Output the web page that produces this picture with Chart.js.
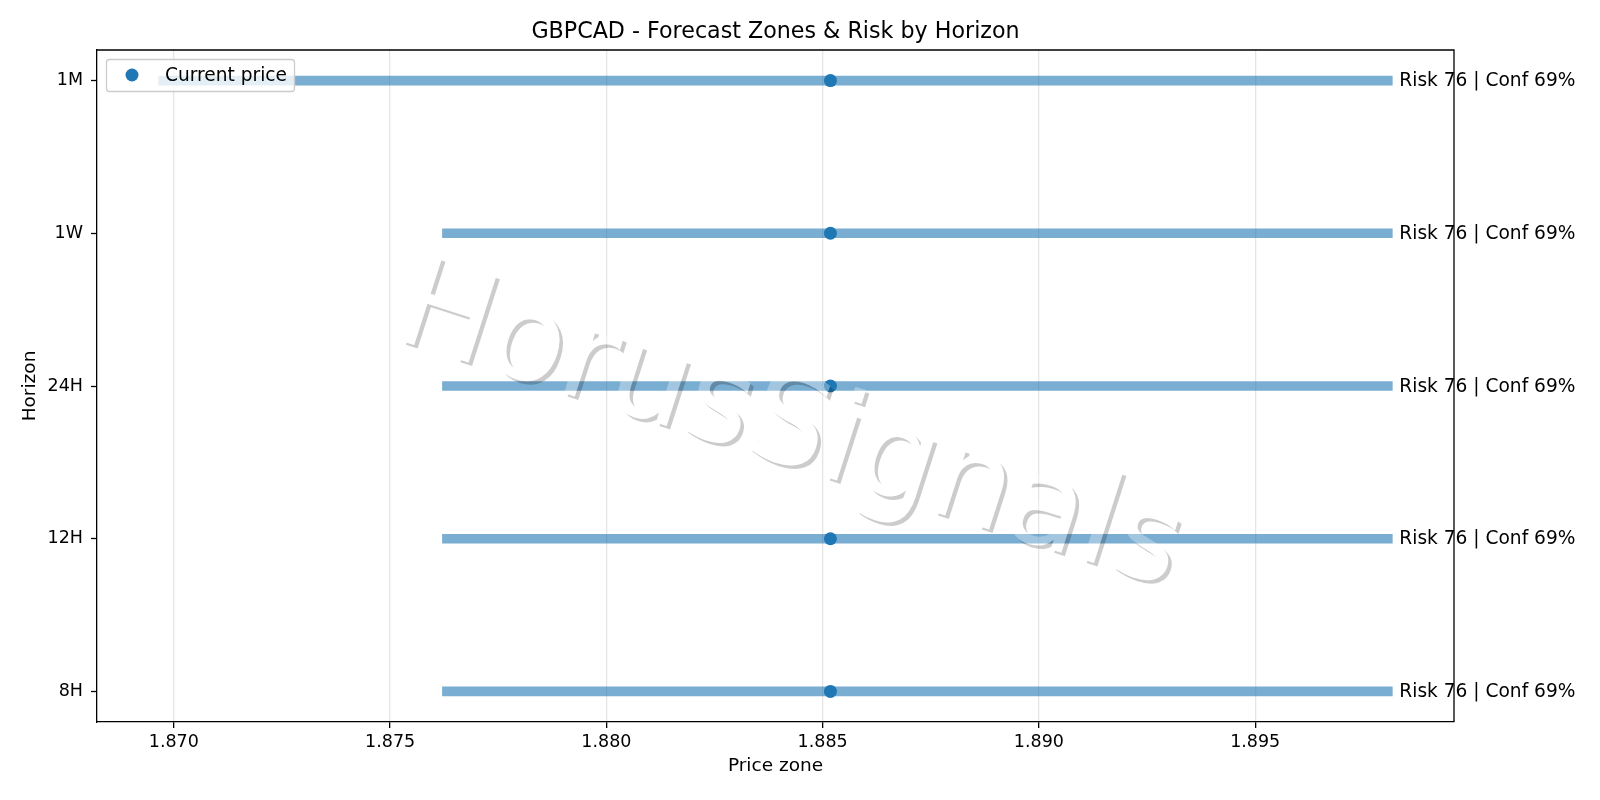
<!DOCTYPE html>
<html>
<head>
<meta charset="utf-8">
<title>GBPCAD - Forecast Zones & Risk by Horizon</title>
<script src="https://cdn.jsdelivr.net/npm/chart.js@4.4.1/dist/chart.umd.min.js"></script>
<style>
  html, body { margin: 0; padding: 0; background: #fff; }
  #wrap { width: 1600px; height: 800px; }
</style>
</head>
<body>
<div id="wrap"><canvas id="zoneChart" width="1600" height="800"></canvas></div>
<script>
/* ======================================
        DATA
========================================*/
const horizons = ['8H', '12H', '24H', '1W', '1M'];
const zoneLow = [1.87621, 1.87621, 1.87621, 1.87621, 1.86965];
const zoneHigh = [1.89817, 1.89817, 1.89817, 1.89817, 1.89817];
const currentPrice = [1.88518, 1.88518, 1.88518, 1.88518, 1.88518];
const riskScore = [76, 76, 76, 76, 76];
const confidence = [69, 69, 69, 69, 69];
const priceTicks = [1.870, 1.875, 1.880, 1.885, 1.890, 1.895];

const chartTitle = 'GBPCAD - Forecast Zones & Risk by Horizon';
const watermark = 'HorusSignals';

// matplotlib-like 5% margins on the price axis
const lo = Math.min(...zoneLow, ...currentPrice);
const hi = Math.max(...zoneHigh, ...currentPrice);
const pad = (hi - lo) * 0.05;

const FONT = 'DejaVu Sans';
Chart.defaults.font.family = FONT;
Chart.defaults.font.size = 17.5;
Chart.defaults.color = '#000';

/* ======================================
        EXTRA DRAWING (title, spines, labels, watermark, legend)
========================================*/
const decorations = {
  id: 'decorations',
  afterDatasetsDraw(chart) {
    const ctx = chart.ctx;
    const area = chart.chartArea;
    const xs = chart.scales.x;
    const ys = chart.scales.y;

    // watermark with offset shadow
    const off = document.createElement('canvas');
    off.width = chart.width;
    off.height = chart.height;
    const o = off.getContext('2d');
    const cx = 779, cy = 462, rot = 17.8 * Math.PI / 180;
    o.font = '125px "' + FONT + '"';
    o.textAlign = 'center';
    o.textBaseline = 'alphabetic';
    o.save();
    o.translate(cx + 3.5, cy + 3.5);
    o.rotate(rot);
    o.fillStyle = 'rgba(0,0,0,0.2)';
    o.fillText(watermark, 0, 0);
    o.restore();
    o.save();
    o.translate(cx, cy);
    o.rotate(rot);
    o.globalCompositeOperation = 'destination-out';
    o.fillStyle = '#000';
    o.fillText(watermark, 0, 0);
    o.globalCompositeOperation = 'source-over';
    o.fillStyle = 'rgba(255,255,255,0.3)';
    o.fillText(watermark, 0, 0);
    o.restore();
    ctx.drawImage(off, 0, 0);

    // top and right spines
    ctx.save();
    ctx.strokeStyle = '#000';
    ctx.lineWidth = 1.3;
    ctx.beginPath();
    ctx.moveTo(area.left, area.top);
    ctx.lineTo(area.right, area.top);
    ctx.lineTo(area.right, area.bottom);
    ctx.stroke();

    // risk labels
    ctx.fillStyle = '#000';
    ctx.font = '18.6px "' + FONT + '"';
    ctx.textAlign = 'left';
    ctx.textBaseline = 'alphabetic';
    horizons.forEach((h, i) => {
      const px = xs.getPixelForValue(zoneHigh[i]) + 7;
      const py = ys.getPixelForValue(i) + 5.5;
      ctx.fillText('Risk ' + riskScore[i] + ' | Conf ' + confidence[i] + '%', px, py);
    });

    // title
    ctx.font = '22.2px "' + FONT + '"';
    ctx.textAlign = 'center';
    ctx.fillText(chartTitle, (area.left + area.right) / 2, 38);

    // legend
    ctx.beginPath();
    ctx.roundRect(106.5, 59.5, 188, 32, 3);
    ctx.fillStyle = 'rgba(255,255,255,0.8)';
    ctx.fill();
    ctx.strokeStyle = '#cccccc';
    ctx.lineWidth = 1.3;
    ctx.stroke();
    ctx.beginPath();
    ctx.arc(132, 75, 6.5, 0, Math.PI * 2);
    ctx.fillStyle = '#1f77b4';
    ctx.fill();
    ctx.fillStyle = '#000';
    ctx.font = '18.6px "' + FONT + '"';
    ctx.textAlign = 'left';
    ctx.fillText('Current price', 165, 80.5);
    ctx.restore();
  }
};

/* ======================================
        CHART
========================================*/
const zoneCtx = document.getElementById('zoneChart').getContext('2d');
const zoneChart = new Chart(zoneCtx, {
  type: 'bar',
  data: {
    datasets: [{
      type: 'scatter',
      label: 'Current price',
      data: horizons.map((h, i) => ({ x: currentPrice[i], y: i })),
      backgroundColor: '#1f77b4',
      borderWidth: 0,
      pointRadius: 6.5,
      order: 0
    }, {
      type: 'bar',
      label: 'Zone',
      data: horizons.map((h, i) => ({ x: [zoneLow[i], zoneHigh[i]], y: i })),
      backgroundColor: 'rgba(31,119,180,0.6)',
      borderWidth: 0,
      barThickness: 9,
      order: 1
    }]
  },
  options: {
    indexAxis: 'y',
    responsive: false,
    animation: false,
    layout: { padding: { top: 50, right: 146, bottom: 0, left: 0 } },
    plugins: {
      legend: { display: false },
      tooltip: { enabled: false },
      title: { display: false }
    },
    scales: {
      x: {
        type: 'linear',
        position: 'bottom',
        offset: false,
        min: lo - pad,
        max: hi + pad,
        afterBuildTicks: (scale) => { scale.ticks = priceTicks.map(v => ({ value: v })); },
        afterFit: (scale) => { scale.height = 78; },
        ticks: {
          padding: 4,
          callback: (v) => v.toFixed(3)
        },
        grid: {
          offset: false,
          color: '#e5e5e5',
          lineWidth: 1.3,
          tickColor: '#000',
          tickLength: 6,
          tickWidth: 1.3
        },
        border: { display: true, color: '#000', width: 1.3 },
        title: {
          display: true,
          text: 'Price zone',
          font: { size: 18.5 },
          padding: { top: 0, bottom: 23 }
        }
      },
      y: {
        type: 'linear',
        position: 'left',
        offset: false,
        min: -0.2,
        max: 4.2,
        afterBuildTicks: (scale) => { scale.ticks = horizons.map((h, i) => ({ value: i })); },
        afterFit: (scale) => { scale.width = 97; },
        ticks: {
          padding: 8,
          callback: (v) => horizons[v]
        },
        grid: {
          offset: false,
          drawOnChartArea: false,
          tickColor: '#000',
          tickLength: 6,
          tickWidth: 1.3
        },
        border: { display: true, color: '#000', width: 1.3 },
        title: {
          display: true,
          text: 'Horizon',
          font: { size: 18.5 },
          padding: { top: 19, bottom: 0 }
        }
      }
    }
  },
  plugins: [decorations]
});
</script>
</body>
</html>
